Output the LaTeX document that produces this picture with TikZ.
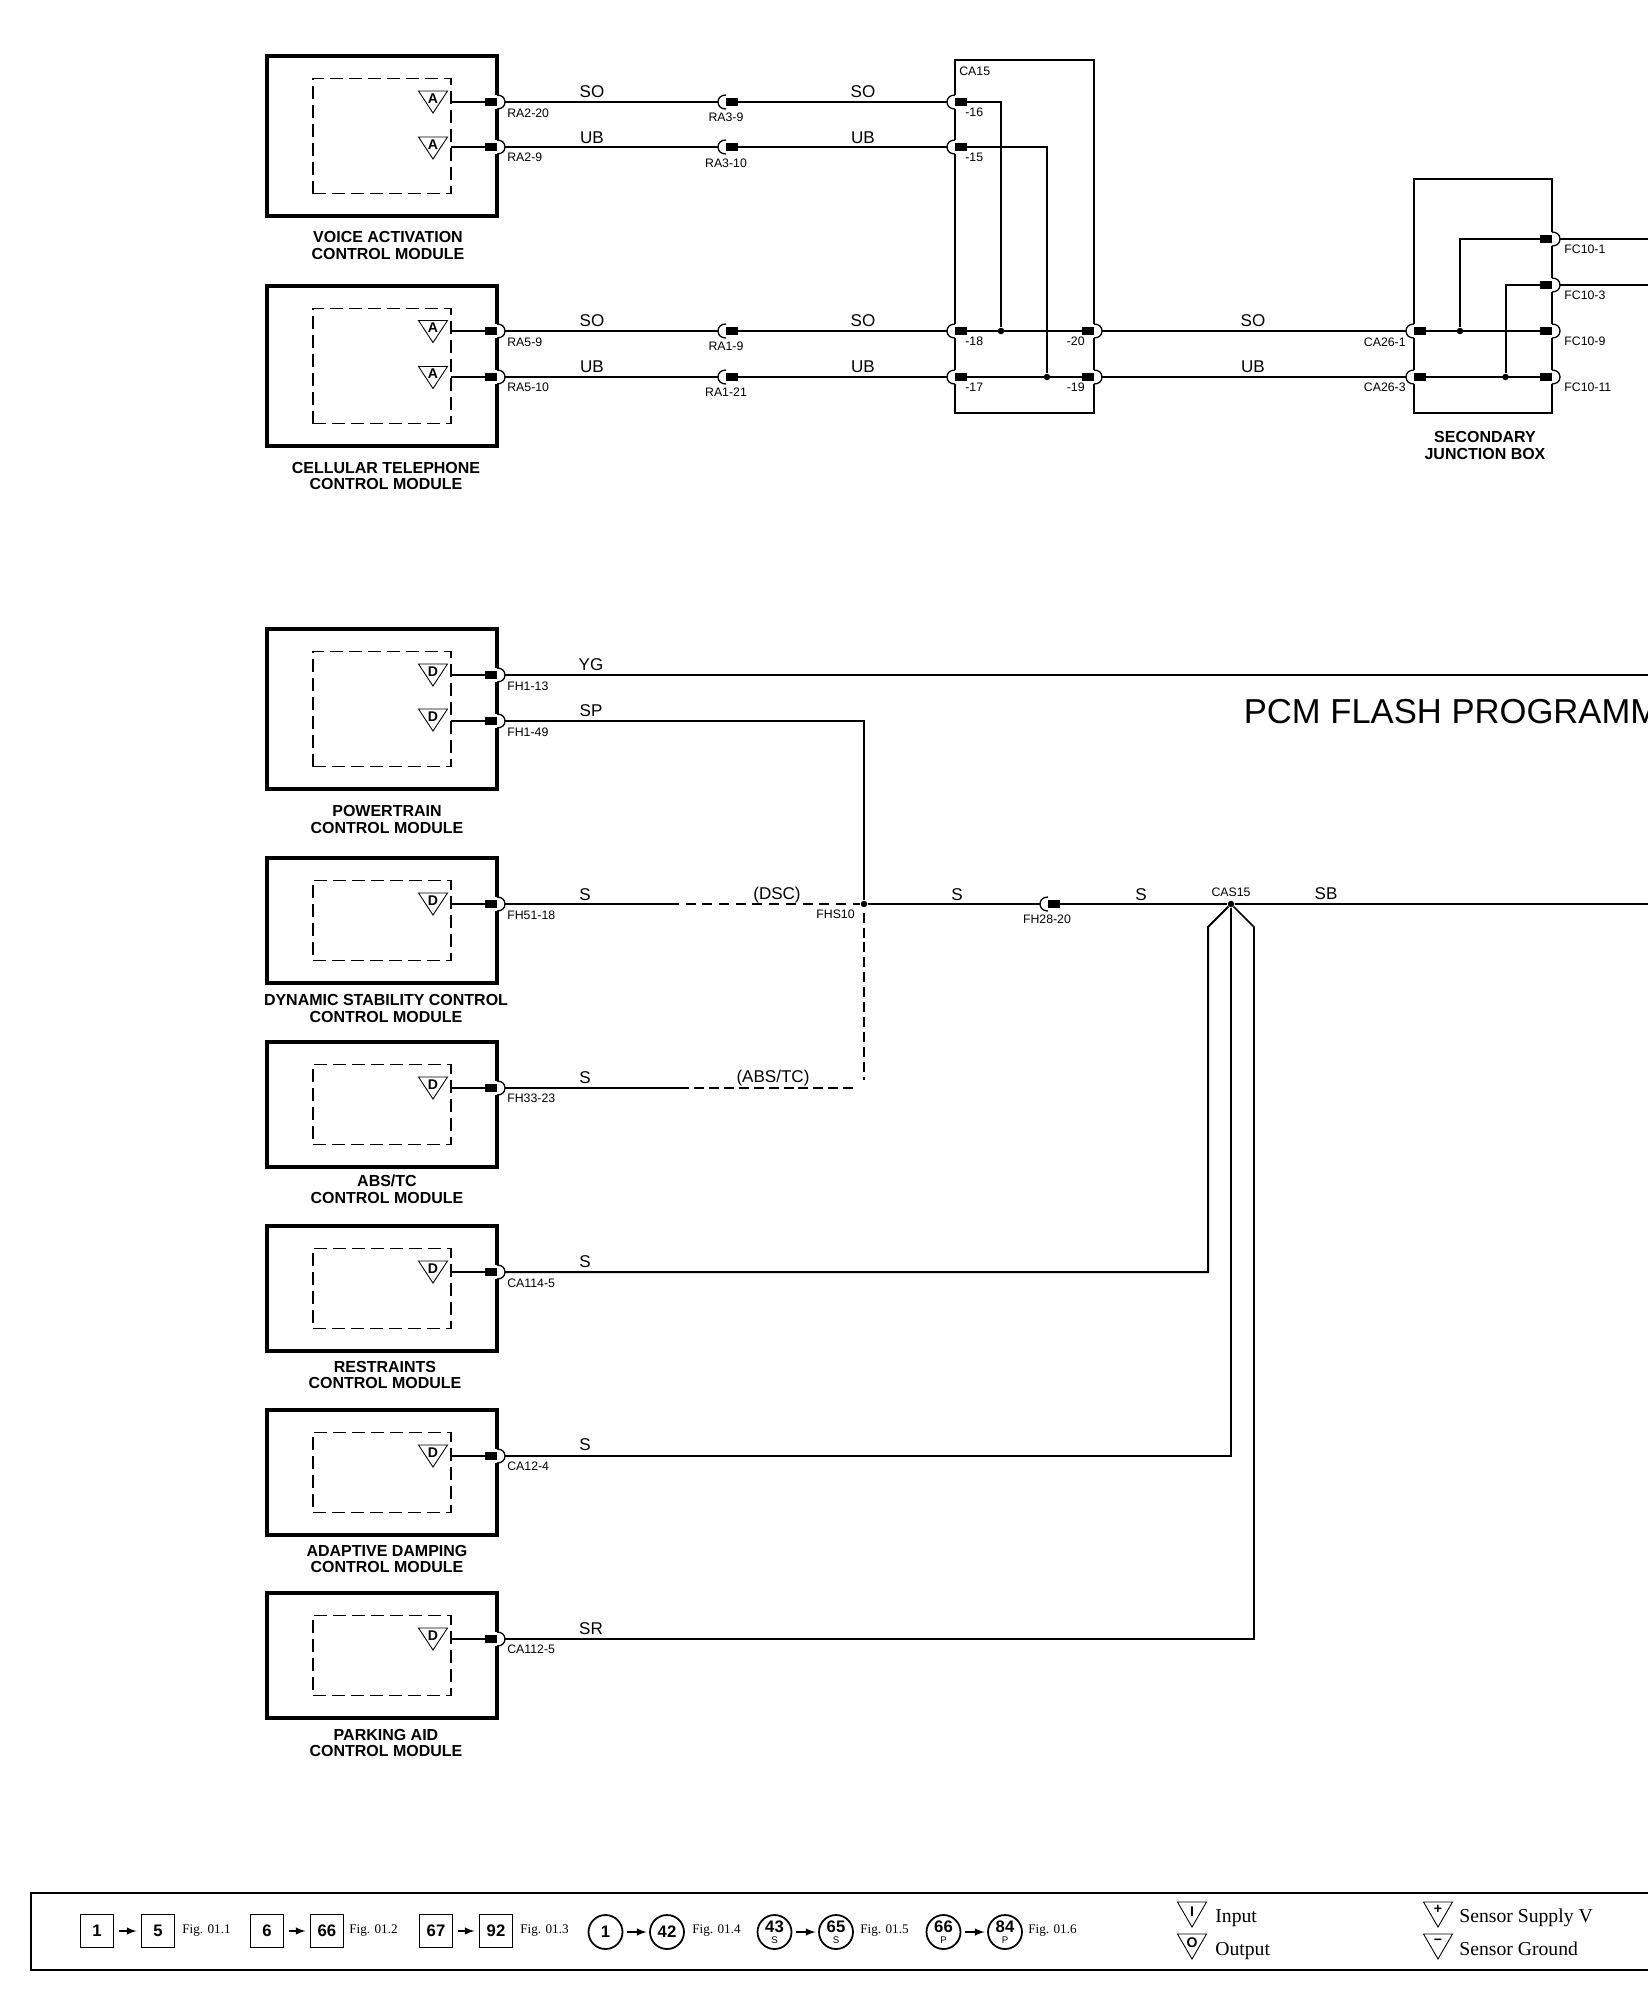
\documentclass[tikz,border=0pt]{standalone}
\usepackage{fontspec}
\setmainfont{Liberation Sans}
\newfontfamily\legendfont{Liberation Serif}
\usetikzlibrary{arrows}
\tikzset{
  modbox/.style={draw,line width=1.8pt,anchor=north west,outer sep=0pt,inner sep=0pt,minimum width=4.6cm},
  inbox/.style={draw,line width=0.7pt,dash pattern=on 7.4pt off 3.4pt,anchor=north west,outer sep=0pt,inner sep=0pt,minimum width=2.76cm},
  wire/.style={line width=1.15pt},
  thinwire/.style={line width=0.7pt},
  midwire/.style={line width=0.9pt},
  dashwire/.style={line width=1.15pt,dash pattern=on 5.7pt off 2.8pt},
  thindash/.style={line width=0.7pt,dash pattern=on 5.7pt off 3.8pt,dash phase=5.7pt},
  pinbox/.style={fill=black,inner sep=0pt,outer sep=0pt,minimum width=0.24cm,minimum height=0.16cm},
  plugline/.style={draw=black,fill=white,line width=0.75pt},
  joint/.style={circle,fill=black,inner sep=0pt,minimum size=0.13cm},
  wirelab/.style={inner sep=0pt,font=\fontsize{9.7pt}{11pt}\selectfont},
  pinlab/.style={inner sep=0pt,font=\fontsize{7pt}{8pt}\selectfont},
  modlab/.style={inner sep=0pt,align=center,font=\fontsize{9.1pt}{9.6pt}\selectfont\bfseries},
  keybox/.style={draw,line width=1.1pt,inner sep=0pt,minimum size=0.66cm,font=\fontsize{9.5pt}{11pt}\selectfont\bfseries},
  keyring/.style={draw,circle,line width=1pt,inner sep=0pt,minimum size=0.68cm,align=center,font=\fontsize{9.5pt}{6pt}\selectfont\bfseries},
  keyarrow/.style={->,line width=0.9pt,shorten <=0.09cm,shorten >=0.08cm},
  ringarrow/.style={->,line width=0.9pt,shorten <=0.07cm,shorten >=0.05cm},
  figlab/.style={inner sep=0pt,anchor=west,font=\legendfont\fontsize{7.5pt}{9pt}\selectfont},
  keylab/.style={inner sep=0pt,anchor=base west,font=\legendfont\fontsize{11.2pt}{13pt}\selectfont},
  trilab/.style={inner sep=0pt,font=\fontsize{8pt}{9pt}\selectfont\bfseries},
}
\newcommand{\plugr}[3]{
  \fill[white] (#2-2,#3-7) rectangle (#2+2,#3+7);
  \filldraw[plugline] (#2,#3-7) .. controls (#2+5,#3-7) and (#2+8,#3-4) .. (#2+8,#3) .. controls (#2+8,#3+4) and (#2+5,#3+7) .. (#2,#3+7);
  \coordinate (#1-t) at (#2+8,#3);
  \node[pinbox,anchor=east] (#1) at (#2,#3) {};
}
\newcommand{\plugl}[3]{
  \fill[white] (#2-2,#3-7) rectangle (#2+2,#3+7);
  \filldraw[plugline] (#2,#3-7) .. controls (#2-5,#3-7) and (#2-8,#3-4) .. (#2-8,#3) .. controls (#2-8,#3+4) and (#2-5,#3+7) .. (#2,#3+7);
  \coordinate (#1-t) at (#2-8,#3);
  \node[pinbox,anchor=west] (#1) at (#2,#3) {};
}
\newcommand{\trimark}[6]{
  \draw[line width=0.5pt] (#2-14.5,#3) -- (#2+14.5,#3) -- (#2,#3+#4) -- cycle;
  \node[trilab] (#1) at (#2,#3+#5) {#6};
}
\begin{document}
\begin{tikzpicture}[x=0.02cm,y=-0.02cm,>=latex]
  \useasboundingbox (0,0) rectangle (1648,1996);
  \clip (0,0) rectangle (1648,1996);
  \foreach \nm/\ty/\hh in {voice/56/160,cell/286/160,pcm/629/160,dsc/858/125,abs/1042/125,rest/1226/125,damp/1410/125,park/1593/125}{
    \node[modbox,minimum height=\hh*0.02cm] (\nm) at (267,\ty) {};
    \node[inbox,minimum height=\hh*0.02cm-0.9cm] (\nm-in) at (313,\ty+22.5) {};
  }
  \draw[line width=1.65pt] (955,60) rectangle (1094,413);
  \draw[line width=1.65pt] (1414,179) rectangle (1552,413);
  \foreach \nm/\y in {ra2a/102,ra2b/147,ra5a/331,ra5b/377,fh1a/675,fh1b/721,fh51/904,fh33/1088,ca114/1272,ca12/1456,ca112/1639}{
    \plugr{\nm}{497}{\y}
    \coordinate (\nm-s) at (451,\y);
    \draw[wire] (\nm-s) -- (\nm);
  }
  \foreach \nm/\y in {ra3a/102,ra3b/147,ra1a/331,ra1b/377}{\plugl{\nm}{726}{\y}}
  \plugl{fh28}{1048}{904}
  \foreach \nm/\y in {ca15a/102,ca15b/147,ca15c/331,ca15d/377}{\plugl{\nm}{955}{\y}}
  \foreach \nm/\y in {ca15e/331,ca15f/377}{\plugr{\nm}{1094}{\y}}
  \foreach \nm/\y in {ca26a/331,ca26b/377}{\plugl{\nm}{1414}{\y}}
  \foreach \nm/\y in {fc1/239,fc3/285,fc9/331,fc11/377}{\plugr{\nm}{1552}{\y}}
  \foreach \nm/\x/\y in {cdot1/1001/331,cdot2/1047/377,jdot1/1460/331,jdot2/1505.5/377,fhs10/864/904,cas15/1231/904}{
    \node[joint] (\nm) at (\x,\y) {};
  }
  \coordinate (fc1end) at (1648,239);
  \coordinate (fc3end) at (1648,285);
  \coordinate (ygend) at (1648,675);
  \coordinate (sbend) at (1648,904);
  \coordinate (dscd) at (679,904);
  \coordinate (absd) at (689,1088);
  \coordinate (absc) at (864,1088);
  \coordinate (casl) at (1208,927);
  \coordinate (casr) at (1254,927);
  \draw[wire] (ra2a-t) -- (ra3a-t);
  \draw[wire] (ra2b-t) -- (ra3b-t);
  \draw[wire] (ra5a-t) -- (ra1a-t);
  \draw[wire] (ra5b-t) -- (ra1b-t);
  \draw[wire] (ra3a) -- (ca15a-t);
  \draw[wire] (ra3b) -- (ca15b-t);
  \draw[wire] (ra1a) -- (ca15c-t);
  \draw[thinwire] (ra1b) -- (ca15d-t);
  \draw[wire] (ca15a) -| (cdot1);
  \draw[wire] (ca15b) -| (cdot2);
  \draw[wire] (ca15c) -- (ca15e);
  \draw[thinwire] (ca15d) -- (ca15f);
  \draw[wire] (ca15e-t) -- (ca26a-t);
  \draw[thinwire] (ca15f-t) -- (ca26b-t);
  \draw[wire] (ca26a) -- (fc9);
  \draw[thinwire] (ca26b) -- (fc11);
  \draw[wire] (fc1) -| (jdot1);
  \draw[wire] (fc3) -| (jdot2);
  \draw[wire] (fc1-t) -- (fc1end);
  \draw[wire] (fc3-t) -- (fc3end);
  \draw[wire] (fh1a-t) -- (ygend);
  \draw[wire] (fh1b-t) -| (fhs10);
  \draw[thinwire] (fh51-t) -- (dscd);
  \draw[thindash] (dscd) -- (fhs10);
  \draw[wire] (fh33-t) -- (absd);
  \draw[dashwire,shorten <=0.1cm,shorten >=0.16cm] (fhs10) -- (absc);
  \draw[dashwire,dash phase=5.7pt,shorten >=0.14cm] (absd) -- (absc);
  \draw[thinwire] (fhs10) -- (fh28-t);
  \draw[thinwire] (fh28) -- (cas15);
  \draw[thinwire] (cas15) -- (sbend);
  \draw[wire] (ca114-t) -| (casl) -- (cas15);
  \draw[thinwire] (ca12-t) -| (cas15);
  \draw[midwire] (ca112-t) -| (casr) -- (cas15);
  \foreach \nm/\y/\tt in {ta/91/A,tb/137/A,tc/320.5/A,td/366.5/A,te/664/D,tf/709/D,tg/893/D,th/1077/D,ti/1261/D,tj/1445/D,tk/1628/D}{
    \trimark{\nm}{433}{\y}{22}{7.5}{\tt}
  }
  \foreach \x/\y/\txt [count=\i] in {592/92/SO,592/138/UB,863/92/SO,863/138/UB,592/321/SO,592/367/UB,863/321/SO,863/367/UB,1253/321/SO,1253/367/UB,591/665/YG,591/711/SP,585/895/S,957/895/S,1141/895/S,1326/894/SB,585/1078/S,585/1262/S,585/1445/S,591/1629/SR,777/895/(DSC),773/1078/{(ABS/TC)}}{
    \node[wirelab] (wl\i) at (\x,\y) {\txt};
  }
  \foreach \x/\y/\txt [count=\i] in {507/113/RA2-20,507/157/RA2-9,507/342/RA5-9,507/387/RA5-10,507/686/FH1-13,507/732/FH1-49,507/915/FH51-18,507/1098/FH33-23,507/1283/CA114-5,507/1466/CA12-4,507/1649/CA112-5,959/71/CA15,965/112/-16,965/157/-15,965/341/-18,965/387/-17,1564/249/FC10-1,1564/295/FC10-3,1564/341/FC10-9,1564/387/FC10-11}{
    \node[pinlab,anchor=west] (pw\i) at (\x,\y) {\txt};
  }
  \foreach \x/\y/\txt [count=\i] in {726/117/RA3-9,726/163/RA3-10,726/346/RA1-9,726/392/RA1-21,1047/919/FH28-20,1231/892/CAS15}{
    \node[pinlab] (pc\i) at (\x,\y) {\txt};
  }
  \foreach \x/\y/\txt [count=\i] in {1085/341/-20,1085/387/-19,1406/342/CA26-1,1406/387/CA26-3,855/914/FHS10}{
    \node[pinlab,anchor=east] (pe\i) at (\x,\y) {\txt};
  }
  \foreach \nm/\x/\y/\txt in {voice/388/245.5/{VOICE ACTIVATION\\CONTROL MODULE},cell/386/476/{CELLULAR TELEPHONE\\CONTROL MODULE},pcm/387/819.5/{POWERTRAIN\\CONTROL MODULE},dsc/386/1008.5/{DYNAMIC STABILITY CONTROL\\CONTROL MODULE},abs/387/1189/{ABS/TC\\CONTROL MODULE},rest/385/1375/{RESTRAINTS\\CONTROL MODULE},damp/387/1559/{ADAPTIVE DAMPING\\CONTROL MODULE},park/386/1743/{PARKING AID\\CONTROL MODULE},sjb/1485/445.5/{SECONDARY\\JUNCTION BOX}}{
    \node[modlab] (\nm-cap) at (\x,\y) {\txt};
  }
  \node[inner sep=0pt,anchor=base west,font=\fontsize{19.7pt}{22pt}\selectfont] (pcmtitle) at (1243.5,723) {PCM FLASH PROGRAMM};
  \draw[line width=1.6pt] (1648,1893) -- (31,1893) -- (31,1970) -- (1648,1970);
  \foreach \nm/\x/\txt in {ka/97/1,kb/158/5,kc/267/6,kd/327/66,ke/436/67,kf/496/92}{
    \node[keybox] (\nm) at (\x,1931) {\txt};
  }
  \draw[keyarrow] (ka) -- (kb);
  \draw[keyarrow] (kc) -- (kd);
  \draw[keyarrow] (ke) -- (kf);
  \foreach \nm/\x/\txt in {ra/605.5/1,rb/667/42,rc/774.5/{43\\{\mdseries\fontsize{5.5pt}{6pt}\selectfont S}},rd/836/{65\\{\mdseries\fontsize{5.5pt}{6pt}\selectfont S}},re/943.5/{66\\{\mdseries\fontsize{5.5pt}{6pt}\selectfont P}},rf/1005/{84\\{\mdseries\fontsize{5.5pt}{6pt}\selectfont P}}}{
    \node[keyring] (\nm) at (\x,1932) {\txt};
  }
  \draw[ringarrow] (ra) -- (rb);
  \draw[ringarrow] (rc) -- (rd);
  \draw[ringarrow] (re) -- (rf);
  \foreach \x/\txt [count=\i] in {182/Fig. 01.1,349/Fig. 01.2,520/Fig. 01.3,692/Fig. 01.4,860/Fig. 01.5,1028/Fig. 01.6}{
    \node[figlab] (fig\i) at (\x,1931) {\txt};
  }
  \trimark{tin}{1192}{1902}{25}{10}{I}
  \trimark{tout}{1192}{1934}{25}{9}{O}
  \trimark{tsup}{1438}{1902}{25}{7}{+}
  \trimark{tgnd}{1438}{1934}{25}{8}{−}
  \node[keylab] (kin) at (1215,1922) {Input};
  \node[keylab] (kout) at (1215,1955) {Output};
  \node[keylab] (ksup) at (1459,1922) {Sensor Supply V};
  \node[keylab] (kgnd) at (1459,1955) {Sensor Ground};
\end{tikzpicture}
\end{document}
